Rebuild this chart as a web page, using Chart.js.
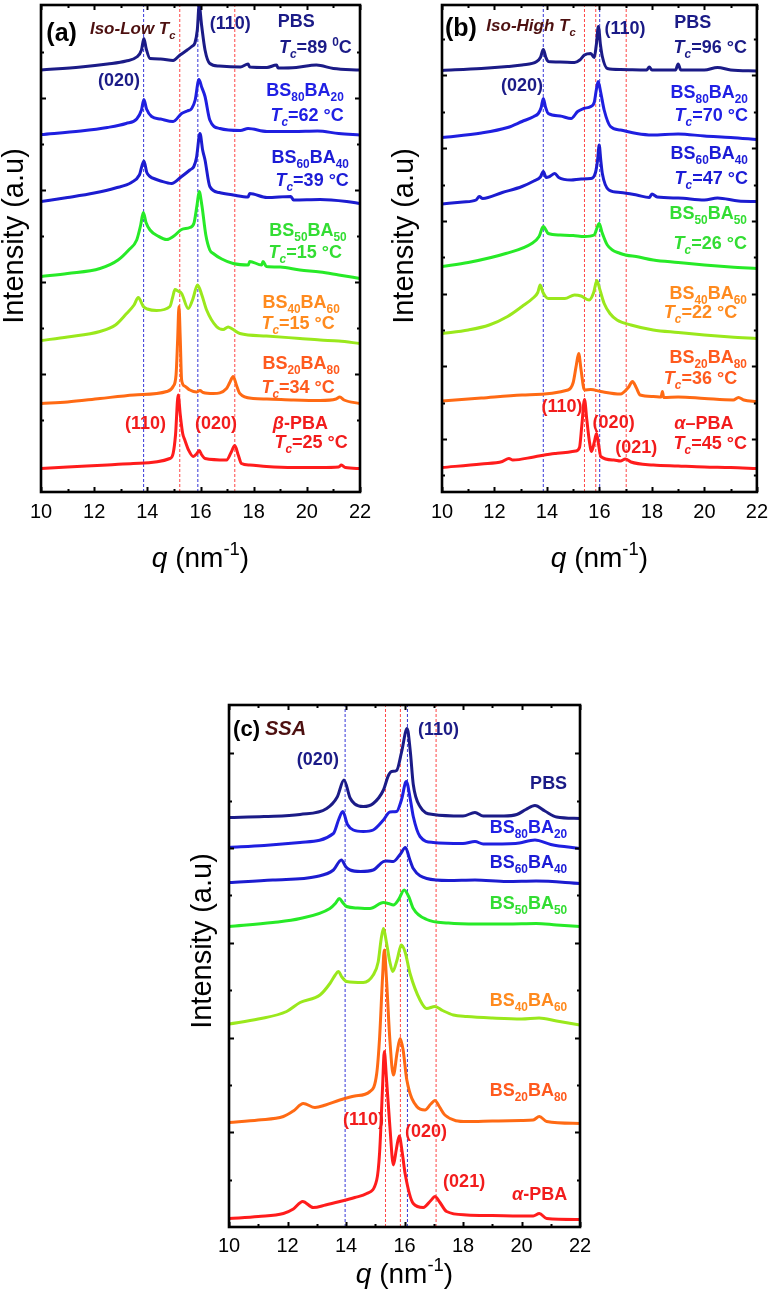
<!DOCTYPE html>
<html><head><meta charset="utf-8">
<script src="https://cdn.jsdelivr.net/npm/chart.js@4.4.1/dist/chart.umd.min.js"></script>
<style>
html,body{margin:0;padding:0;background:#fff;}
body{width:776px;height:1291px;position:relative;overflow:hidden;}
canvas{position:absolute;display:block;}
</style></head><body>
<canvas id="ca" width="390" height="575" style="left:0;top:0"></canvas>
<canvas id="cb" width="386" height="575" style="left:390px;top:0"></canvas>
<canvas id="cc" width="420" height="601" style="left:190px;top:690px"></canvas>
<script>
// ---------- shared axis data ----------
const qTickLabels = [10, 12, 14, 16, 18, 20, 22];
const seriesNames = ['PBS', 'BS80BA20', 'BS60BA40', 'BS50BA50', 'BS40BA60', 'BS20BA80', 'PBA'];
const yAxisTitle = 'Intensity (a.u)';

// ---------- panel (a) Iso-Low Tc ----------
const a_PBS_q = [10, 11.5, 12.5, 13.2, 13.6, 13.78, 13.87, 13.96, 14.1, 14.5, 14.97, 15.23, 15.5, 15.67, 15.79, 15.88, 15.95, 16.04, 16.17, 16.35, 16.7, 17.5, 17.79, 17.85, 18.5, 18.86, 18.92, 19.6, 20.36, 21.0, 22];
const a_PBS_I = [84, 84.6, 85.2, 85.8, 86.6, 88, 90.3, 88.2, 86.3, 86.2, 85.9, 87, 88, 88.7, 89.4, 92, 97, 93, 88, 85.3, 84.8, 84.6, 85.2, 84.6, 84.5, 85, 84.4, 84.5, 85, 84.3, 84];
const a_BS80_q = [10, 11.5, 12.5, 13.2, 13.6, 13.78, 13.87, 13.97, 14.16, 14.5, 14.97, 15.29, 15.5, 15.67, 15.8, 15.94, 16.05, 16.17, 16.35, 16.73, 17.5, 17.79, 18.5, 19.5, 20.4, 21.2, 22];
const a_BS80_I = [71.1, 71.8, 72.5, 73.3, 74.2, 76, 78.1, 76.2, 74.7, 74.2, 73.7, 75.3, 75.8, 76.3, 78, 82.1, 80.5, 78.7, 74, 72.3, 71.9, 72.3, 71.7, 71.7, 71.8, 71.3, 71];
const a_BS60_q = [10, 11, 12, 12.8, 13.4, 13.7, 13.87, 13.98, 14.1, 14.29, 14.5, 14.91, 15.29, 15.6, 15.75, 15.85, 15.98, 16.08, 16.17, 16.35, 16.7, 17.23, 17.79, 17.85, 18.5, 19.4, 19.5, 20.5, 21.5, 22];
const a_BS60_I = [57.7, 58.5, 59.4, 60.4, 61.5, 63, 65.8, 63.5, 62.7, 62.2, 61.8, 61.3, 62.7, 64, 64.7, 66.5, 71.3, 68, 66, 60.7, 59.5, 59, 58.6, 59.3, 58.5, 58.7, 58, 58.1, 57.7, 57.3];
const a_BS50_q = [10, 11, 12.22, 12.9, 13.3, 13.6, 13.75, 13.85, 13.95, 14.1, 14.4, 14.73, 15.0, 15.29, 15.6, 15.75, 15.87, 15.95, 16.05, 16.2, 16.35, 16.48, 16.8, 17.23, 17.8, 17.85, 18.3, 18.35, 18.48, 19.0, 19.74, 20.5, 21.2, 22];
const a_BS50_I = [42.7, 43.3, 44.3, 46, 48, 50, 53, 55.5, 53.5, 52, 50.8, 50.1, 50.8, 52.1, 52.5, 53.3, 57, 59.7, 57, 51, 48, 47.3, 46.2, 45.3, 45, 45.7, 45, 45.7, 44.7, 44.6, 44, 43.6, 43, 42.3];
const a_BS40_q = [10, 11, 12.22, 12.8, 13.22, 13.5, 13.66, 13.85, 14.0, 14.35, 14.85, 14.95, 15.04, 15.15, 15.29, 15.54, 15.7, 15.89, 16.05, 16.23, 16.6, 16.85, 17.04, 17.2, 17.48, 18.48, 19.74, 20.5, 21.2, 22];
const a_BS40_I = [29.9, 30.6, 31.7, 33, 35.3, 37, 38.5, 36.7, 36.2, 35.9, 36.7, 38.5, 40.1, 39.8, 39.3, 36.3, 38, 41, 39, 36, 32.7, 32.1, 32.6, 32.2, 31.3, 30.8, 30.3, 30, 29.8, 29.3];
const a_BS20_q = [10, 11, 12.22, 13.5, 14.73, 14.97, 15.08, 15.14, 15.19, 15.24, 15.29, 15.4, 15.6, 15.85, 15.98, 16.1, 16.48, 16.98, 17.1, 17.23, 17.35, 17.48, 17.98, 18.5, 19.5, 20.5, 21.1, 21.24, 21.4, 22];
const a_BS20_I = [17.3, 17.6, 18.3, 19, 19.7, 20.7, 23, 30, 36.7, 30, 22, 20.8, 20, 19.6, 19.9, 19.5, 19.3, 20.3, 21.5, 22.7, 21, 19.3, 18.3, 18.2, 18, 17.9, 18.2, 18.6, 18, 17.3];
const a_PBA_q = [10, 11, 12.5, 13.47, 14.85, 14.97, 15.06, 15.16, 15.24, 15.33, 15.41, 15.55, 15.73, 15.85, 15.95, 16.05, 16.17, 16.98, 17.15, 17.29, 17.42, 17.54, 17.85, 18.48, 19.5, 20.5, 21.2, 21.3, 21.45, 22];
const a_PBA_I = [4.3, 4.6, 5, 5.3, 6.3, 7.3, 11, 19, 15, 11.3, 10, 8, 6.7, 7.2, 7.9, 7, 6.3, 6, 7.5, 8.9, 7, 5.3, 5, 4.7, 4.5, 4.5, 4.6, 5, 4.5, 4.3];
const a_refBlue = [13.86, 15.9];
const a_refRed = [15.22, 17.29];
const a_yTicks = [14, 23.2, 32.4, 41.6, 50.8, 60, 69.2, 78.4, 87.6];

// ---------- panel (b) Iso-High Tc ----------
const b_PBS_q = [10, 11.5, 12.5, 13.05, 13.61, 13.75, 13.86, 13.96, 14.05, 14.5, 15.05, 15.25, 15.43, 15.67, 15.8, 15.88, 15.96, 16.04, 16.11, 16.3, 16.8, 17.8, 17.9, 18.0, 18.9, 19.0, 19.1, 20.0, 20.5, 21.0, 22];
const b_PBS_I = [83.9, 84.3, 84.7, 85, 85.7, 86.5, 88.1, 86.5, 85.7, 85.6, 85.5, 86, 87, 87.3, 86.5, 89, 92.7, 89, 86.7, 84.3, 84.1, 84, 84.6, 84, 84, 85.2, 84, 84, 84.5, 84, 83.8];
const b_BS80_q = [10, 11.5, 12.5, 13.05, 13.5, 13.67, 13.78, 13.86, 13.95, 14.05, 14.5, 14.92, 15.17, 15.4, 15.67, 15.8, 15.88, 15.95, 16.05, 16.18, 16.42, 16.8, 17.42, 18.0, 19.0, 20.0, 21.0, 22];
const b_BS80_I = [70.5, 71.4, 72.5, 73.7, 74.7, 75.3, 76.5, 78.3, 76.5, 75.3, 74.8, 74.3, 75.7, 76.3, 76.7, 77.5, 80, 81.7, 79.5, 76, 72.7, 72, 71.3, 71, 71.2, 70.8, 70.5, 70.1];
const b_BS60_q = [10, 10.8, 11.3, 11.42, 11.55, 12.3, 13.05, 13.5, 13.75, 13.86, 13.97, 14.1, 14.3, 14.45, 14.92, 15.3, 15.67, 15.85, 15.93, 15.99, 16.05, 16.11, 16.36, 16.8, 17.42, 17.9, 18.0, 18.2, 19.0, 20.0, 20.5, 21.3, 22];
const b_BS60_I = [57.2, 57.6, 58, 58.7, 58.3, 59.5, 60.7, 61.8, 62.6, 63.7, 62.5, 62.7, 63.3, 62.5, 62, 62.2, 62.3, 63.5, 66, 69, 66, 63.3, 60, 59.5, 59, 58.5, 59.2, 58.6, 58.4, 58, 58.4, 57.8, 57.7];
const b_BS50_q = [10, 11, 12.43, 13.42, 13.7, 13.86, 14.05, 14.5, 15.0, 15.43, 15.8, 15.9, 15.99, 16.1, 16.3, 16.8, 17.5, 18.05, 19.0, 20.0, 21.0, 22];
const b_BS50_I = [44.7, 45.5, 47.3, 49.3, 50.7, 52.7, 51.3, 51, 50.9, 50.7, 51, 52.3, 53.3, 51.5, 49, 47.3, 46.6, 46, 45.5, 45, 44.6, 44.3];
const b_BS40_q = [10, 11, 11.8, 12.5, 13.05, 13.45, 13.65, 13.74, 13.85, 14.05, 14.68, 15.05, 15.3, 15.61, 15.78, 15.9, 16.02, 16.18, 16.4, 16.67, 17.2, 18.05, 19.0, 20.0, 21.0, 22];
const b_BS40_I = [31.3, 32, 33, 34.7, 36.7, 38.3, 39.5, 41, 39.5, 38.3, 38.3, 39, 38.8, 38, 39.5, 41.9, 40, 37.3, 35.3, 34, 33, 32, 31.5, 31, 30.6, 30.3];
const b_BS20_q = [10, 11.5, 13.05, 14.8, 15.0, 15.12, 15.21, 15.3, 15.43, 15.67, 16.05, 16.8, 17.1, 17.26, 17.4, 17.55, 18.05, 18.35, 18.4, 18.45, 19.0, 20.0, 21.1, 21.3, 21.5, 22];
const b_BS20_I = [17.8, 18.4, 19, 20, 21.5, 25, 27.3, 24, 20, 20.1, 19.7, 19.2, 20.5, 21.7, 20.5, 19, 18.7, 18.6, 19.7, 18.5, 18.6, 18.3, 18, 18.5, 18, 17.7];
const b_PBA_q = [10, 11.5, 12.3, 12.55, 12.7, 13.5, 14.3, 15.1, 15.24, 15.33, 15.43, 15.52, 15.61, 15.7, 15.8, 15.89, 15.97, 16.05, 16.55, 16.8, 16.99, 17.2, 18.05, 19.0, 20.0, 21.0, 22];
const b_PBA_I = [4.5, 5.2, 5.7, 6.3, 6, 6.6, 7.3, 7.8, 8.5, 13, 18.1, 14, 10, 7.7, 9.5, 11.3, 9, 6.7, 6, 5.8, 6.2, 5.6, 5, 4.8, 4.6, 4.5, 4.3];
const b_refBlue = [13.86, 16.01];
const b_refRed = [15.43, 15.86, 17.02];
const b_yTicks = [3, 10.3, 17.5, 24.8, 32.1, 39.3, 46.6, 53.8, 61.1, 68.4, 75.6, 82.9, 90.2];

// ---------- panel (c) SSA ----------
const c_PBS_q = [10, 11.2, 12.43, 13.34, 13.7, 13.93, 14.14, 14.3, 14.59, 14.93, 15.28, 15.45, 15.56, 15.73, 15.9, 16.09, 16.2, 16.3, 16.53, 16.98, 18.0, 18.41, 18.69, 19.4, 19.84, 20.15, 20.46, 20.8, 21.2, 22];
const c_PBS_I = [81.9, 82.1, 82.5, 83.7, 86, 89.4, 85.8, 84.6, 84.1, 84.7, 87.4, 90.3, 91.1, 91.3, 95, 99.7, 95, 88.5, 84.1, 82.5, 82.2, 82.9, 82.2, 82.2, 82.5, 83.5, 84.3, 83.2, 82, 81.7];
const c_BS80_q = [10, 11.2, 12.43, 13.57, 13.75, 13.89, 14.05, 14.25, 14.59, 14.93, 15.28, 15.5, 15.73, 15.9, 16.06, 16.2, 16.3, 16.53, 16.98, 18.0, 18.41, 18.69, 19.8, 20.46, 21.0, 22];
const c_BS80_I = [75.9, 76.3, 76.9, 78.7, 81.5, 83.1, 80.5, 79.4, 79.1, 79.4, 81.4, 83, 83.1, 85.5, 89.1, 85.5, 82.1, 78.1, 76.9, 76.7, 77.1, 76.6, 76.7, 77.4, 76.5, 75.7];
const c_BS60_q = [10, 11.5, 13.0, 13.57, 13.84, 14.0, 14.14, 14.5, 14.93, 15.28, 15.39, 15.62, 15.85, 16.03, 16.18, 16.3, 16.76, 17.5, 18.41, 19.5, 20.5, 22];
const c_BS60_I = [68.9, 69.4, 70.1, 71.4, 73.4, 72, 71.4, 71.1, 71.4, 73.1, 73.2, 73.1, 74.5, 75.9, 73.5, 71.7, 69.7, 69.3, 69.4, 69.1, 69.2, 68.7];
const c_BS50_q = [10, 11.5, 12.43, 13.45, 13.65, 13.77, 13.9, 14.02, 14.4, 14.82, 15.28, 15.45, 15.62, 15.8, 15.99, 16.15, 16.3, 16.76, 17.5, 18.5, 19.5, 20.5, 21.2, 22];
const c_BS50_I = [60.1, 60.9, 61.7, 63.7, 64.8, 65.7, 64.8, 64.1, 63.8, 63.7, 64.9, 64.7, 64.4, 65.5, 67.4, 66, 63.7, 61.5, 60.8, 60.6, 60.6, 60.7, 60.4, 60.1];
const c_BS40_q = [10, 11.0, 11.97, 12.43, 13.11, 13.45, 13.62, 13.74, 13.86, 14.02, 14.59, 14.93, 15.1, 15.2, 15.28, 15.38, 15.5, 15.6, 15.75, 15.89, 16.02, 16.19, 16.53, 16.76, 17.04, 17.3, 17.67, 18.13, 19.0, 20.0, 20.6, 21.2, 22];
const c_BS40_I = [40.6, 41.6, 43.1, 44.9, 46.4, 48.7, 50.3, 51.1, 50, 49.1, 48.9, 50.4, 53, 57.5, 59.7, 57, 53, 51.1, 53.5, 56.4, 55, 50.7, 45.4, 43.7, 44.1, 43.3, 42.4, 42.1, 41.8, 41.6, 41.8, 41.2, 40.4];
const c_BS20_q = [10, 11.0, 11.86, 12.2, 12.54, 12.94, 13.3, 13.79, 14.3, 14.82, 15.05, 15.15, 15.25, 15.31, 15.38, 15.5, 15.62, 15.75, 15.85, 15.95, 16.08, 16.42, 16.7, 16.9, 17.04, 17.2, 17.38, 18.13, 19.0, 20.0, 20.4, 20.61, 20.86, 22];
const c_BS20_I = [20.9, 21.4, 22.1, 23.2, 24.7, 23.9, 24.4, 25.4, 26.2, 27.1, 30.7, 38, 50, 55.4, 50, 37.4, 30.4, 35, 37.7, 35.5, 29.4, 24.1, 23.4, 24.6, 25.3, 24, 22.4, 21.1, 21.2, 21.3, 21.4, 22.1, 21.1, 20.7];
const c_PBA_q = [10, 11.0, 11.86, 12.2, 12.52, 12.88, 13.3, 13.79, 14.3, 14.71, 15.05, 15.15, 15.25, 15.31, 15.38, 15.5, 15.62, 15.72, 15.82, 15.92, 16.02, 16.3, 16.64, 16.9, 17.04, 17.2, 17.44, 18.13, 19.0, 20.4, 20.61, 20.86, 22];
const c_PBA_I = [1.7, 2.1, 2.7, 3.6, 5.1, 3.9, 4.4, 5.1, 5.9, 6.7, 9.4, 15, 28, 35.1, 30, 20.1, 12.4, 15.5, 18.2, 15, 10.7, 4.7, 3.9, 5.3, 6.1, 5, 3.1, 2.4, 2.3, 2.2, 2.7, 1.7, 1.5];
const c_refBlue = [13.97, 16.1];
const c_refRed = [15.35, 15.86, 17.08];
const c_yTicks = [9.5, 19, 28.4, 37.9, 47.4, 56.9, 66.4, 75.8, 85.3, 94.8];

// ---------- styling ----------
const FONT = '"Liberation Sans", Arial, Helvetica, sans-serif';
const lineColors = ['#1b1b87', '#1f1fe0', '#1c1cd0', '#27ea27', '#9ae81c', '#ff6a14', '#ff1c1c'];
const C = {navy:'#1b1b87', blue:'#2020e4', blue2:'#1c1cd6', green:'#33dd33', orange:'#ff8a1e', orred:'#ff5a1e', red:'#f21c1c', brown:'#4d1010', black:'#000'};

const a_labels = [
  {t:'(a)', q:10.2, v:91.6, al:'left', s:25, c:C.black},
  {t:'*Iso-Low T*_{*c*}', q:11.84, v:92.4, al:'left', s:17, c:C.brown},
  {t:'(110)', q:16.35, v:93.4, al:'left', s:18, c:C.navy},
  {t:'PBS', q:18.91, v:93.8, al:'left', s:18, c:C.navy},
  {t:'*T*_{*c*}=89 ^{0}C', q:21.69, v:88.6, al:'right', s:18, c:C.navy},
  {t:'(020)', q:12.14, v:82, al:'left', s:18, c:C.navy},
  {t:'BS_{80}BA_{20}', q:21.39, v:80, al:'right', s:18, c:C.blue},
  {t:'*T*_{*c*}=62 °C', q:21.39, v:75, al:'right', s:18, c:C.blue},
  {t:'BS_{60}BA_{40}', q:21.58, v:66.6, al:'right', s:18, c:C.blue2},
  {t:'*T*_{*c*}=39 °C', q:21.58, v:62, al:'right', s:18, c:C.blue2},
  {t:'BS_{50}BA_{50}', q:21.5, v:52, al:'right', s:18, c:C.green},
  {t:'*T*_{*c*}=15 °C', q:21.32, v:47.6, al:'right', s:18, c:C.green},
  {t:'BS_{40}BA_{60}', q:21.24, v:37.6, al:'right', s:18, c:C.orange},
  {t:'*T*_{*c*}=15 °C', q:21.05, v:33.4, al:'right', s:18, c:C.orange},
  {t:'BS_{20}BA_{80}', q:21.24, v:25.4, al:'right', s:18, c:C.orred},
  {t:'*T*_{*c*}=34 °C', q:21.05, v:20.6, al:'right', s:18, c:C.orred},
  {t:'(110)', q:13.16, v:13.4, al:'left', s:18, c:C.red},
  {t:'(020)', q:15.79, v:13.4, al:'left', s:18, c:C.red},
  {t:'*β*-PBA', q:18.72, v:13.4, al:'left', s:18, c:C.red},
  {t:'*T*_{*c*}=25 °C', q:21.54, v:9.6, al:'right', s:18, c:C.red}
];
const b_labels = [
  {t:'(b)', q:10.11, v:92.6, al:'left', s:25, c:C.black},
  {t:'*Iso-High T*_{*c*}', q:11.69, v:93, al:'left', s:17, c:C.brown},
  {t:'(110)', q:16.19, v:92.4, al:'left', s:18, c:C.navy},
  {t:'PBS', q:18.85, v:93.6, al:'left', s:18, c:C.navy},
  {t:'*T*_{*c*}=96 °C', q:21.62, v:88.6, al:'right', s:18, c:C.navy},
  {t:'(020)', q:12.25, v:81, al:'left', s:18, c:C.navy},
  {t:'BS_{80}BA_{20}', q:21.66, v:79.6, al:'right', s:18, c:C.blue},
  {t:'*T*_{*c*}=70 °C', q:21.66, v:75, al:'right', s:18, c:C.blue},
  {t:'BS_{60}BA_{40}', q:21.66, v:67.4, al:'right', s:18, c:C.blue2},
  {t:'*T*_{*c*}=47 °C', q:21.66, v:62.4, al:'right', s:18, c:C.blue2},
  {t:'BS_{50}BA_{50}', q:21.62, v:55.4, al:'right', s:18, c:C.green},
  {t:'*T*_{*c*}=26 °C', q:21.62, v:49.4, al:'right', s:18, c:C.green},
  {t:'BS_{40}BA_{60}', q:21.62, v:39.4, al:'right', s:18, c:C.orange},
  {t:'*T*_{*c*}=22 °C', q:21.25, v:35.6, al:'right', s:18, c:C.orange},
  {t:'BS_{20}BA_{80}', q:21.62, v:26.6, al:'right', s:18, c:C.orred},
  {t:'*T*_{*c*}=36 °C', q:21.25, v:22.4, al:'right', s:18, c:C.orred},
  {t:'(110)', q:13.79, v:16.8, al:'left', s:18, c:C.red},
  {t:'(020)', q:15.74, v:13.6, al:'left', s:18, c:C.red},
  {t:'(021)', q:16.6, v:8.6, al:'left', s:18, c:C.red},
  {t:'*α*–PBA', q:18.85, v:13.4, al:'left', s:18, c:C.red},
  {t:'*T*_{*c*}=45 °C', q:21.62, v:9.4, al:'right', s:18, c:C.red}
];
const c_labels = [
  {t:'(c)', q:10.14, v:99.8, al:'left', s:22, c:C.black},
  {t:'*SSA*', q:11.23, v:99.8, al:'left', s:20, c:C.brown},
  {t:'(110)', q:16.46, v:99.6, al:'left', s:18, c:C.navy},
  {t:'(020)', q:12.32, v:93.6, al:'left', s:18, c:C.navy},
  {t:'PBS', q:21.56, v:88.8, al:'right', s:18, c:C.navy},
  {t:'BS_{80}BA_{20}', q:21.56, v:80, al:'right', s:18, c:C.blue},
  {t:'BS_{60}BA_{40}', q:21.56, v:73, al:'right', s:18, c:C.blue2},
  {t:'BS_{50}BA_{50}', q:21.56, v:64.8, al:'right', s:18, c:C.green},
  {t:'BS_{40}BA_{60}', q:21.56, v:45.4, al:'right', s:18, c:C.orange},
  {t:'BS_{20}BA_{80}', q:21.56, v:27.4, al:'right', s:18, c:C.orred},
  {t:'(110)', q:13.9, v:21.7, al:'left', s:18, c:C.red},
  {t:'(020)', q:16.02, v:19.3, al:'left', s:18, c:C.red},
  {t:'(021)', q:17.32, v:9.3, al:'left', s:18, c:C.red},
  {t:'*α*-PBA', q:21.56, v:6.7, al:'right', s:18, c:C.red}
];

// ---------- rich text ----------
function parseRich(s) {
  const out = []; let i = 0, it = false, buf = '';
  const flush = () => { if (buf) out.push({t: buf, it, mode: ''}); buf = ''; };
  while (i < s.length) {
    const ch = s[i];
    if (ch === '*') { flush(); it = !it; i++; }
    else if ((ch === '_' || ch === '^') && s[i + 1] === '{') {
      flush();
      const j = s.indexOf('}', i);
      let inner = s.slice(i + 2, j), itl = it;
      if (inner.length > 2 && inner[0] === '*' && inner[inner.length - 1] === '*') { inner = inner.slice(1, -1); itl = true; }
      out.push({t: inner, it: itl, mode: ch === '_' ? 'sub' : 'sup'});
      i = j + 1;
    } else { buf += ch; i++; }
  }
  flush();
  return out;
}
function drawRich(ctx, str, x, y, align, size, color, bold) {
  const segs = parseRich(str);
  let total = 0;
  segs.forEach(s => {
    const fs = s.mode ? size * 0.66 : size;
    s.font = (s.it ? 'italic ' : '') + (bold ? 'bold ' : '') + fs + 'px ' + FONT;
    ctx.font = s.font; s.w = ctx.measureText(s.t).width; total += s.w;
  });
  let cx = align === 'right' ? x - total : align === 'center' ? x - total / 2 : x;
  const base = y + size * 0.358;
  ctx.save();
  ctx.fillStyle = color; ctx.textBaseline = 'alphabetic'; ctx.textAlign = 'left';
  segs.forEach(s => {
    ctx.font = s.font;
    const dy = s.mode === 'sub' ? size * 0.27 : s.mode === 'sup' ? -size * 0.42 : 0;
    ctx.fillText(s.t, cx, base + dy); cx += s.w;
  });
  ctx.restore();
}

// ---------- plugins ----------
const framePlugin = {
  id: 'frame',
  afterDraw(chart) {
    const {ctx, chartArea: ca, scales: {x, y}} = chart;
    const P = chart.options.plugins.frame;
    ctx.save();
    ctx.strokeStyle = '#000'; ctx.lineWidth = 2;
    for (let q = 10; q <= 22; q++) {
      const px = Math.round(x.getPixelForValue(q)) + 0.5;
      const len = q % 2 === 0 ? 5 : 3;
      ctx.beginPath();
      ctx.moveTo(px, ca.bottom); ctx.lineTo(px, ca.bottom - len);
      ctx.moveTo(px, ca.top); ctx.lineTo(px, ca.top + len);
      ctx.stroke();
    }
    P.yTicks.forEach((v, k) => {
      const py = Math.round(y.getPixelForValue(v)) + 0.5;
      const len = k % 2 === P.majorParity ? 5 : 3;
      ctx.beginPath();
      ctx.moveTo(ca.left, py); ctx.lineTo(ca.left + len, py);
      ctx.moveTo(ca.right, py); ctx.lineTo(ca.right - len, py);
      ctx.stroke();
    });
    ctx.lineWidth = 2.6;
    ctx.strokeRect(ca.left, ca.top, ca.right - ca.left, ca.bottom - ca.top);
    // x-axis title
    drawRich(ctx, '*q* (nm^{-1})', (ca.left + ca.right) / 2, P.xTitleY, 'center', 28, '#000', false);
    // y-axis title
    ctx.save();
    ctx.translate(P.yTitleX, P.yTitleY);
    ctx.rotate(-Math.PI / 2);
    ctx.font = '29px ' + FONT; ctx.fillStyle = '#000';
    ctx.textAlign = 'center'; ctx.textBaseline = 'middle';
    ctx.fillText(yAxisTitle, 0, 0);
    ctx.restore();
    ctx.restore();
  }
};
const labelPlugin = {
  id: 'annot',
  afterDatasetsDraw(chart) {
    const {ctx, scales: {x, y}} = chart;
    chart.options.plugins.annot.labels.forEach(L => {
      drawRich(ctx, L.t, x.getPixelForValue(L.q), y.getPixelForValue(L.v), L.al, L.s, L.c, true);
    });
  }
};

// ---------- builder ----------
function buildPanel(id, P) {
  const ds = [];
  P.refBlue.forEach(q => ds.push({data: [{x: q, y: P.ymin}, {x: q, y: P.ymax}], borderColor: '#3535d8', borderWidth: 1, borderDash: [3, 2], pointRadius: 0, order: 20}));
  P.refRed.forEach(q => ds.push({data: [{x: q, y: P.ymin}, {x: q, y: P.ymax}], borderColor: '#ff4646', borderWidth: 1, borderDash: [3, 2], pointRadius: 0, order: 20}));
  P.curves.forEach((c, i) => ds.push({
    label: seriesNames[i],
    data: c[0].map((q, k) => ({x: q, y: c[1][k]})),
    borderColor: lineColors[i], borderWidth: 3, pointRadius: 0,
    cubicInterpolationMode: 'monotone', order: 6 - i
  }));
  const g = P.g;
  new Chart(document.getElementById(id), {
    type: 'line',
    data: {datasets: ds},
    options: {
      responsive: false, animation: false, events: [],
      layout: {padding: {left: 0, top: g.top, right: g.W - g.right, bottom: 0}},
      plugins: {
        legend: {display: false}, tooltip: {enabled: false},
        frame: {yTicks: P.yTicks, majorParity: P.majorParity, xTitleY: P.xTitleY, yTitleX: P.yTitleX, yTitleY: P.yTitleY},
        annot: {labels: P.labels}
      },
      scales: {
        x: {
          type: 'linear', min: 10, max: 22,
          afterBuildTicks: s => { s.ticks = qTickLabels.map(v => ({value: v})); },
          ticks: {font: {size: 20, family: FONT}, color: '#000', padding: P.tickPad, maxRotation: 0, autoSkip: false},
          grid: {display: false, drawTicks: false}, border: {display: false},
          afterFit: s => { s.height = g.H - g.bottom; }
        },
        y: {
          type: 'linear', min: P.ymin, max: P.ymax,
          ticks: {display: false}, grid: {display: false, drawTicks: false}, border: {display: false},
          title: {display: false},
          afterFit: s => { s.width = g.left; }
        }
      }
    },
    plugins: [framePlugin, labelPlugin]
  });
}

buildPanel('ca', {
  g: {left: 41, right: 360, top: 5, bottom: 492, W: 390, H: 575},
  ymin: -0.4, ymax: 97, tickPad: 8, xTitleY: 557, yTitleX: 15, yTitleY: 236, majorParity: 1,
  yTicks: a_yTicks, refBlue: a_refBlue, refRed: a_refRed, labels: a_labels,
  curves: [[a_PBS_q, a_PBS_I], [a_BS80_q, a_BS80_I], [a_BS60_q, a_BS60_I], [a_BS50_q, a_BS50_I], [a_BS40_q, a_BS40_I], [a_BS20_q, a_BS20_I], [a_PBA_q, a_PBA_I]]
});
buildPanel('cb', {
  g: {left: 52, right: 372, top: 5, bottom: 492, W: 386, H: 575},
  ymin: -0.4, ymax: 97, tickPad: 8, xTitleY: 557, yTitleX: 15, yTitleY: 236, majorParity: 1,
  yTicks: b_yTicks, refBlue: b_refBlue, refRed: b_refRed, labels: b_labels,
  curves: [[b_PBS_q, b_PBS_I], [b_BS80_q, b_BS80_I], [b_BS60_q, b_BS60_I], [b_BS50_q, b_BS50_I], [b_BS40_q, b_BS40_I], [b_BS20_q, b_BS20_I], [b_PBA_q, b_PBA_I]]
});
buildPanel('cc', {
  g: {left: 39, right: 390, top: 15, bottom: 537, W: 420, H: 601},
  ymin: 0, ymax: 104.4, tickPad: 7, xTitleY: 583, yTitleX: 13, yTitleY: 251, majorParity: 1,
  yTicks: c_yTicks, refBlue: c_refBlue, refRed: c_refRed, labels: c_labels,
  curves: [[c_PBS_q, c_PBS_I], [c_BS80_q, c_BS80_I], [c_BS60_q, c_BS60_I], [c_BS50_q, c_BS50_I], [c_BS40_q, c_BS40_I], [c_BS20_q, c_BS20_I], [c_PBA_q, c_PBA_I]]
});
</script>
</body></html>
